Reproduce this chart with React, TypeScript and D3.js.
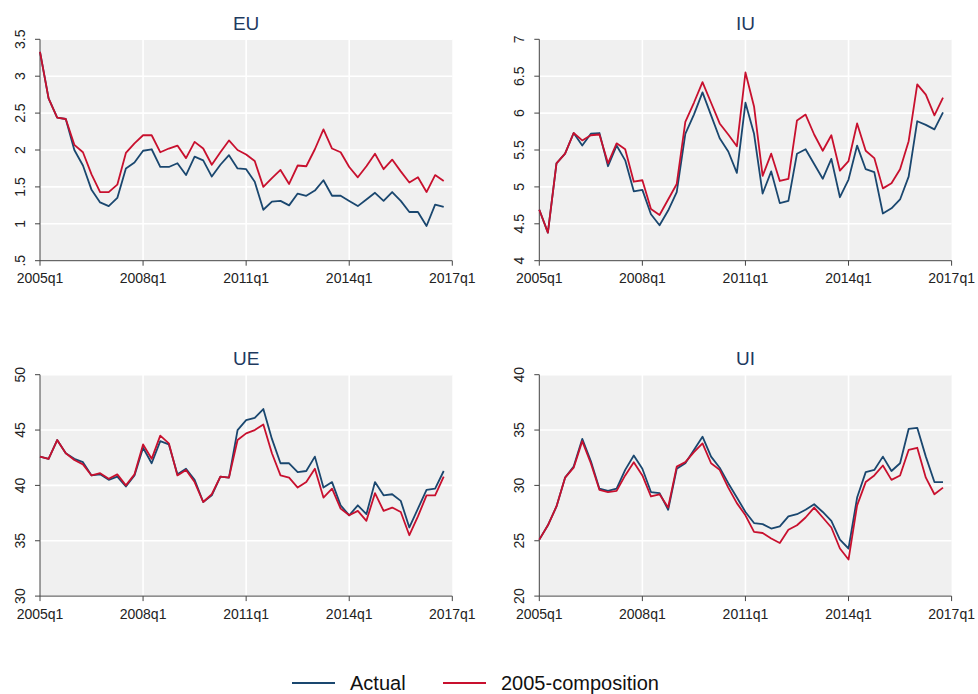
import * as d3 from "d3";
import { useEffect, useRef } from "react";

// quarterly, 2005q1 .. 2016q4
const quarters = d3.range(2005, 2017).flatMap((y) => [1, 2, 3, 4].map((q) => `${y}q${q}`));
const xTickLabels = ["2005q1", "2008q1", "2011q1", "2014q1", "2017q1"];

const euActual = [3.33, 2.7, 2.44, 2.42, 2.0, 1.79, 1.46, 1.29, 1.24, 1.35, 1.75, 1.83,
  1.99, 2.01, 1.77, 1.77, 1.82, 1.66, 1.91, 1.86, 1.64, 1.8, 1.93, 1.75,
  1.74, 1.57, 1.19, 1.3, 1.31, 1.25, 1.41, 1.38, 1.45, 1.59, 1.38, 1.38,
  1.31, 1.24, 1.33, 1.42, 1.31, 1.43, 1.31, 1.16, 1.16, 0.97, 1.26, 1.23];
const euComp = [3.33, 2.7, 2.44, 2.42, 2.07, 1.97, 1.67, 1.43, 1.43, 1.53, 1.96, 2.09,
  2.2, 2.2, 1.97, 2.02, 2.06, 1.89, 2.11, 2.02, 1.8, 1.97, 2.13, 2.0,
  1.94, 1.85, 1.5, 1.62, 1.73, 1.54, 1.79, 1.78, 2.01, 2.28, 2.02, 1.97,
  1.77, 1.63, 1.78, 1.95, 1.74, 1.87, 1.71, 1.56, 1.63, 1.43, 1.66, 1.58];

const iuActual = [4.69, 4.38, 5.32, 5.45, 5.73, 5.56, 5.72, 5.73, 5.28, 5.56, 5.36, 4.94,
  4.96, 4.63, 4.48, 4.68, 4.93, 5.72, 5.98, 6.28, 5.97, 5.66, 5.48, 5.19,
  6.14, 5.72, 4.91, 5.21, 4.78, 4.81, 5.45, 5.51, 5.31, 5.11, 5.38, 4.86,
  5.1, 5.56, 5.24, 5.2, 4.64, 4.71, 4.83, 5.14, 5.89, 5.84, 5.78, 6.01];
const iuComp = [4.69, 4.38, 5.32, 5.45, 5.73, 5.63, 5.7, 5.71, 5.32, 5.59, 5.51, 5.07,
  5.09, 4.7, 4.62, 4.83, 5.04, 5.88, 6.14, 6.42, 6.14, 5.86, 5.71, 5.55,
  6.55, 6.09, 5.15, 5.45, 5.08, 5.11, 5.9, 5.98, 5.71, 5.49, 5.7, 5.22,
  5.35, 5.86, 5.49, 5.39, 4.98, 5.05, 5.24, 5.62, 6.39, 6.25, 5.97, 6.21];

const ueActual = [42.6, 42.4, 44.1, 42.9, 42.4, 42.1, 40.9, 41.0, 40.5, 40.8, 39.9, 40.9,
  43.4, 42.0, 44.0, 43.7, 41.0, 41.5, 40.5, 38.5, 39.1, 40.8, 40.7, 45.0,
  45.9, 46.1, 46.9, 44.2, 42.0, 42.0, 41.2, 41.3, 42.6, 39.8, 40.3, 38.2,
  37.3, 38.2, 37.4, 40.3, 39.1, 39.2, 38.6, 36.2, 37.9, 39.6, 39.7, 41.3];
const ueComp = [42.6, 42.4, 44.1, 42.9, 42.3, 41.9, 40.9, 41.1, 40.6, 41.0, 40.0, 41.0,
  43.7, 42.4, 44.5, 43.8, 40.9, 41.4, 40.3, 38.5, 39.2, 40.8, 40.7, 44.1,
  44.7, 45.0, 45.5, 42.9, 40.9, 40.7, 39.8, 40.3, 41.5, 38.9, 39.7, 37.9,
  37.3, 37.7, 36.8, 39.3, 37.7, 38.0, 37.6, 35.5, 37.2, 39.1, 39.1, 40.8];

const uiActual = [25.1, 26.4, 28.1, 30.7, 31.7, 34.2, 32.2, 29.7, 29.5, 29.7, 31.4, 32.7,
  31.5, 29.4, 29.3, 27.8, 31.5, 32.0, 33.2, 34.4, 32.6, 31.6, 30.2, 28.9,
  27.6, 26.6, 26.5, 26.1, 26.3, 27.2, 27.4, 27.8, 28.3, 27.6, 26.8, 25.1,
  24.3, 28.9, 31.2, 31.4, 32.6, 31.3, 32.0, 35.1, 35.2, 32.6, 30.3, 30.3];
const uiComp = [25.1, 26.4, 28.1, 30.7, 31.6, 34.0, 32.0, 29.6, 29.4, 29.5, 30.9, 32.1,
  30.9, 29.0, 29.2, 28.0, 31.7, 32.1, 33.0, 33.8, 32.0, 31.4, 29.8, 28.4,
  27.3, 25.8, 25.7, 25.2, 24.8, 26.0, 26.4, 27.1, 28.0, 27.1, 26.2, 24.3,
  23.3, 28.2, 30.3, 30.9, 31.8, 30.5, 30.9, 33.2, 33.4, 30.7, 29.2, 29.8];

const seriesNames = ["Actual", "2005-composition"];
const colors = ["#1a476f", "#c8102e"];

const panels = [
  { title: "EU", actual: euActual, comp: euComp, ticks: [0.5, 1, 1.5, 2, 2.5, 3, 3.5] },
  { title: "IU", actual: iuActual, comp: iuComp, ticks: [4, 4.5, 5, 5.5, 6, 6.5, 7] },
  { title: "UE", actual: ueActual, comp: ueComp, ticks: [30, 35, 40, 45, 50] },
  { title: "UI", actual: uiActual, comp: uiComp, ticks: [20, 25, 30, 35, 40] },
];

const fmt = (d) => String(d).replace(/^0\./, ".");

export default function App() {
  const ref = useRef(null);

  useEffect(() => {
    const svg = d3.select(ref.current);
    svg.selectAll("*").remove();
    svg.append("rect").attr("width", 978).attr("height", 694).attr("fill", "#fff");

    const pw = 412.3, ph = 221.4;
    const lefts = [40, 539.3], tops = [39.3, 374.7];

    panels.forEach((p, i) => {
      const left = lefts[i % 2], top = tops[Math.floor(i / 2)];
      const g = svg.append("g").attr("transform", `translate(${left},${top})`);

      const x = d3.scaleLinear().domain([0, quarters.length]).range([0, pw]);
      const y = d3.scaleLinear().domain(d3.extent(p.ticks)).range([ph, 0]);
      const qx = (lab) => (lab === "2017q1" ? quarters.length : quarters.indexOf(lab));

      g.append("rect").attr("width", pw).attr("height", ph).attr("fill", "#f0f0f0");

      g.selectAll(".hg").data(p.ticks).join("line")
        .attr("x1", 0).attr("x2", pw)
        .attr("y1", (d) => y(d)).attr("y2", (d) => y(d))
        .attr("stroke", "#fff").attr("stroke-width", 1.6);
      g.selectAll(".vg").data(xTickLabels.slice(1, -1)).join("line")
        .attr("x1", (d) => x(qx(d))).attr("x2", (d) => x(qx(d)))
        .attr("y1", 0).attr("y2", ph)
        .attr("stroke", "#fff").attr("stroke-width", 1.6);

      // axes
      g.append("line").attr("x1", 0).attr("x2", 0).attr("y1", 0).attr("y2", ph)
        .attr("stroke", "#444").attr("stroke-width", 1);
      g.append("line").attr("x1", 0).attr("x2", pw).attr("y1", ph).attr("y2", ph)
        .attr("stroke", "#444").attr("stroke-width", 1);

      g.selectAll(".yt").data(p.ticks).join("line")
        .attr("x1", -5).attr("x2", 0)
        .attr("y1", (d) => y(d)).attr("y2", (d) => y(d))
        .attr("stroke", "#444");
      g.selectAll(".yl").data(p.ticks).join("text")
        .attr("transform", (d) => `translate(-15.5,${y(d)}) rotate(-90)`)
        .attr("text-anchor", "middle")
        .style("font-family", "'Liberation Sans', Arial, sans-serif")
        .style("font-size", "14px")
        .attr("fill", "#222")
        .text(fmt);

      g.selectAll(".xt").data(xTickLabels).join("line")
        .attr("x1", (d) => x(qx(d))).attr("x2", (d) => x(qx(d)))
        .attr("y1", ph).attr("y2", ph + 5)
        .attr("stroke", "#444");
      g.selectAll(".xl").data(xTickLabels).join("text")
        .attr("x", (d) => x(qx(d)))
        .attr("y", ph + 22.5)
        .attr("text-anchor", "middle")
        .style("font-family", "'Liberation Sans', Arial, sans-serif")
        .style("font-size", "14px")
        .attr("fill", "#222")
        .text((d) => d);

      const line = d3.line().x((d, j) => x(j)).y((d) => y(d));
      [p.actual, p.comp].forEach((s, k) => {
        g.append("path").datum(s)
          .attr("fill", "none")
          .attr("stroke", colors[k])
          .attr("stroke-width", 1.8)
          .attr("stroke-linejoin", "round")
          .attr("d", line);
      });

      g.append("text")
        .attr("x", pw / 2)
        .attr("y", -9.5)
        .attr("text-anchor", "middle")
        .style("font-family", "'Liberation Sans', Arial, sans-serif")
        .style("font-size", "19px")
        .attr("fill", "#1e3a5f")
        .text(p.title);
    });

    // legend
    const leg = svg.append("g");
    const legX = [292, 443];
    seriesNames.forEach((name, k) => {
      leg.append("line")
        .attr("x1", legX[k]).attr("x2", legX[k] + 43)
        .attr("y1", 683).attr("y2", 683)
        .attr("stroke", colors[k]).attr("stroke-width", 1.8);
      leg.append("text")
        .attr("x", legX[k] + 58)
        .attr("y", 690)
        .style("font-family", "'Liberation Sans', Arial, sans-serif")
        .style("font-size", "20px")
        .attr("fill", "#111")
        .text(name);
    });
  }, []);

  return (
    <svg ref={ref} width={978} height={694}
      style={{ position: "absolute", left: 0, top: 0, display: "block" }} />
  );
}
